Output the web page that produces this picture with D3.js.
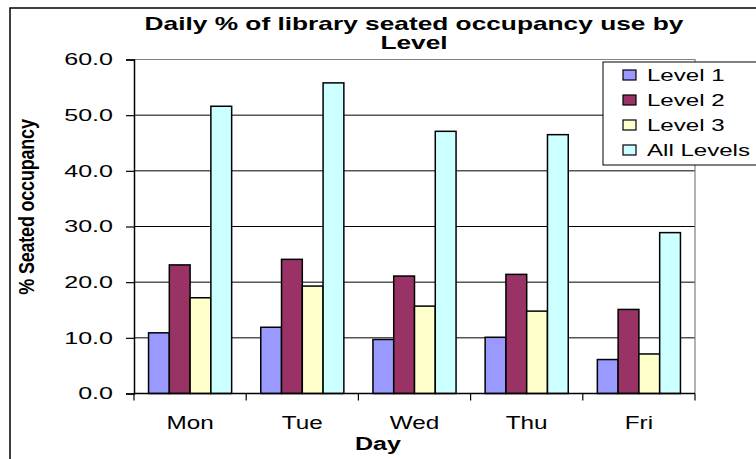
<!DOCTYPE html>
<meta charset="utf-8">
<style>
body { margin: 0; background: #fff; }
svg { display: block; font-family: "Liberation Sans", Arial, sans-serif; }
.grid line { stroke: #000; stroke-width: 1px; }
.bar { stroke: #000; stroke-width: 1.5px; }
</style>
<svg width="756" height="459"></svg>
<script src="https://cdn.jsdelivr.net/npm/d3@7"></script>
<script>

var days = ["Mon", "Tue", "Wed", "Thu", "Fri"];
var series = ["Level 1", "Level 2", "Level 3", "All Levels"];
var level1 = [10.9, 11.9, 9.7, 10.1, 6.1];
var level2 = [23.1, 24.1, 21.1, 21.4, 15.1];
var level3 = [17.2, 19.3, 15.7, 14.8, 7.1];
var allLevels = [51.6, 55.8, 47.1, 46.5, 28.9];
var yTicks = [0, 10, 20, 30, 40, 50, 60];
var colors = ["#9999ff", "#993366", "#ffffcc", "#ccffff"];

var values = [level1, level2, level3, allLevels];

var svg = d3.select("svg"),
    plotLeft = 134, plotRight = 695, plotTop = 59.5, plotBottom = 393.5;

// the original picture is stretched sideways, so is its text
function stretch(sel, sx) {
  sel.attr("transform", function() {
    var x = +this.getAttribute("x") || 0;
    return "translate(" + (x * (1 - sx)) + ",0) scale(" + sx + ",1)";
  });
}

// outer chart border
svg.append("rect")
    .attr("x", 10).attr("y", 8)
    .attr("width", 800).attr("height", 500)
    .attr("fill", "#fff").attr("stroke", "#000").attr("stroke-width", 1.5);

var x0 = d3.scaleBand().domain(days).range([plotLeft, plotRight]);
var x1 = d3.scaleBand().domain(series).range([0, x0.bandwidth()]).paddingOuter(0.7);
var y = d3.scaleLinear().domain([0, 60]).range([plotBottom, plotTop]);

// gridlines
svg.append("g").attr("class", "grid")
  .selectAll("line")
  .data(yTicks.slice(1, -1))
  .enter().append("line")
    .attr("x1", plotLeft).attr("x2", plotRight)
    .attr("y1", function(d) { return y(d); })
    .attr("y2", function(d) { return y(d); });

// plot area frame (top + right in grey)
svg.append("path")
    .attr("d", "M" + plotLeft + "," + y(60) + "H" + plotRight + "V" + plotBottom)
    .attr("fill", "none").attr("stroke", "#808080").attr("stroke-width", 1.2);

// bars
svg.append("g")
  .selectAll("g")
  .data(series)
  .enter().append("g")
    .attr("fill", function(d, i) { return colors[i]; })
  .selectAll("rect")
  .data(function(s, i) { return values[i].map(function(v, j) { return {s: s, day: days[j], v: v}; }); })
  .enter().append("rect")
    .attr("class", "bar")
    .attr("x", function(d) { return x0(d.day) + x1(d.s); })
    .attr("width", x1.bandwidth())
    .attr("y", function(d) { return y(d.v); })
    .attr("height", function(d) { return y(0) - y(d.v); });

// y axis
var yAxis = svg.append("g")
    .attr("transform", "translate(" + plotLeft + ",0)")
    .call(d3.axisLeft(y).tickValues(yTicks).tickSize(8).tickPadding(13)
      .tickFormat(d3.format(".1f")));
yAxis.select(".domain").attr("stroke", "#000").attr("stroke-width", 1.5);
yAxis.selectAll(".tick line").attr("stroke", "#000").attr("stroke-width", 1.2);
yAxis.selectAll("text")
    .attr("font-size", 16.5).attr("font-family", "Liberation Sans, Arial, sans-serif")
    .attr("fill", "#000")
    .call(stretch, 1.52);

// x axis
svg.append("line")
    .attr("x1", plotLeft).attr("x2", plotRight)
    .attr("y1", plotBottom).attr("y2", plotBottom)
    .attr("stroke", "#000").attr("stroke-width", 1.5);

svg.append("g")
  .selectAll("line")
  .data(days.map(function(d) { return x0(d); }).concat(x0.range()[1]))
  .enter().append("line")
    .attr("x1", function(d) { return d; }).attr("x2", function(d) { return d; })
    .attr("y1", plotBottom).attr("y2", plotBottom + 7)
    .attr("stroke", "#000").attr("stroke-width", 1.2);

svg.append("g")
  .selectAll("text")
  .data(days)
  .enter().append("text")
    .attr("x", function(d) { return x0(d) + x0.bandwidth() / 2; })
    .attr("y", 429)
    .attr("text-anchor", "middle")
    .attr("font-size", 19)
    .text(function(d) { return d; })
    .call(stretch, 1.28);

// axis titles
svg.append("text")
    .attr("x", 378).attr("y", 450)
    .attr("text-anchor", "middle")
    .attr("font-size", 18).attr("font-weight", "bold")
    .text("Day")
    .call(stretch, 1.39);

svg.append("text")
    .attr("transform", "translate(34,207) scale(1.2,1) rotate(-90)")
    .attr("text-anchor", "middle")
    .attr("font-size", 18).attr("font-weight", "bold")
    .attr("letter-spacing", -0.2)
    .text("% Seated occupancy");

// chart title
var title = ["Daily % of library seated occupancy use by", "Level"];
svg.append("g")
  .selectAll("text")
  .data(title)
  .enter().append("text")
    .attr("x", 414)
    .attr("y", function(d, i) { return 30 + i * 19.5; })
    .attr("text-anchor", "middle")
    .attr("font-size", 18).attr("font-weight", "bold")
    .text(function(d) { return d; })
    .call(stretch, 1.46);

// legend
var legend = svg.append("g");
legend.append("rect")
    .attr("x", 603).attr("y", 62)
    .attr("width", 200).attr("height", 103)
    .attr("fill", "#fff").attr("stroke", "#000").attr("stroke-width", 1);

var item = legend.selectAll("g.item")
  .data(series)
  .enter().append("g")
    .attr("class", "item")
    .attr("transform", function(d, i) { return "translate(0," + (75 + i * 25) + ")"; });

item.append("rect")
    .attr("x", 623).attr("y", -5)
    .attr("width", 13).attr("height", 10)
    .attr("fill", function(d, i) { return colors[i]; })
    .attr("stroke", "#000").attr("stroke-width", 1.2);

item.append("text")
    .attr("x", 647).attr("y", 6)
    .attr("font-size", 16.5)
    .text(function(d) { return d; })
    .call(stretch, 1.46);

</script>
